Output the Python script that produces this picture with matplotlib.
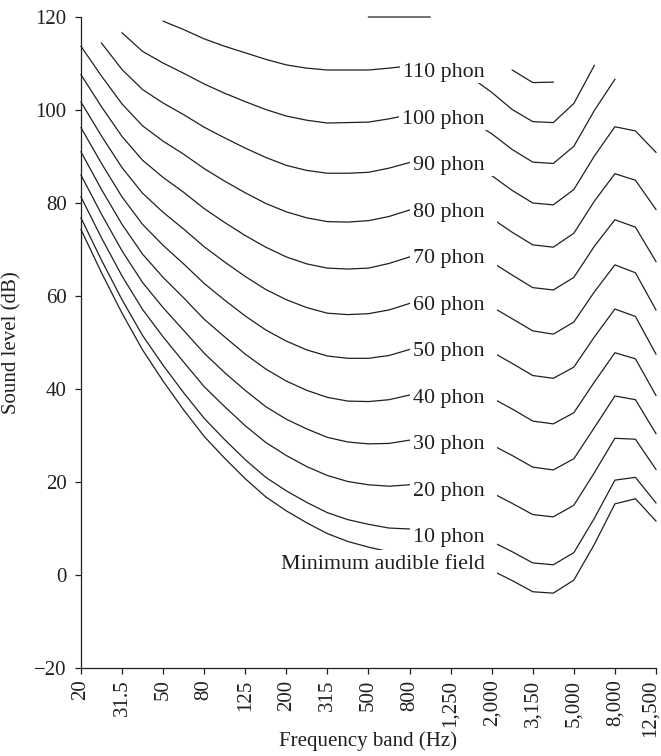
import numpy as np
import matplotlib.pyplot as plt
import matplotlib.transforms as mtransforms
from matplotlib.path import Path

plt.rcParams['font.family'] = ['Liberation Serif', 'DejaVu Serif']
plt.rcParams['font.size'] = 15

nan = np.nan
INK = '#231f20'

# one-third octave bands, 20 Hz ... 12.5 kHz
bands = ['20', '25', '31.5', '40', '50', '63', '80', '100', '125', '160',
         '200', '250', '315', '400', '500', '630', '800', '1,000', '1,250',
         '1,600', '2,000', '2,500', '3,150', '4,000', '5,000', '6,300',
         '8,000', '10,000', '12,500']

# sound level (dB) of each contour at every band
maf = [74.3, 65.0, 56.3, 48.4, 41.7, 35.5, 29.8, 25.1, 20.7, 16.8, 13.8,
       11.2, 8.9, 7.2, 6.0, 5.0, 4.4, 4.2, 3.7, 2.6, 1.0, -1.2, -3.6, -3.9,
       -1.1, 6.6, 15.3, 16.4, 11.6]
phon_10 = [76.8, 67.7, 59.2, 51.5, 45.1, 39.2, 33.7, 29.1, 24.8, 21.0, 18.1,
           15.6, 13.4, 11.9, 10.9, 10.1, 9.9, 10.0, 9.7, 8.7, 7.2, 5.0, 2.6,
           2.2, 4.8, 12.2, 20.4, 21.0, 15.5]
phon_20 = [81.3, 72.5, 64.3, 57.1, 51.2, 45.8, 40.5, 36.2, 32.1, 28.5, 25.7,
           23.3, 21.4, 20.1, 19.4, 19.1, 19.4, 20.0, 19.9, 19.2, 17.7, 15.4,
           13.0, 12.5, 15.0, 22.0, 29.4, 29.2, 22.7]
phon_30 = [86.0, 77.6, 69.7, 62.9, 57.5, 52.6, 47.7, 43.5, 39.7, 36.2, 33.5,
           31.4, 29.6, 28.6, 28.2, 28.3, 29.0, 30.0, 30.1, 29.5, 28.0, 25.7,
           23.2, 22.6, 25.0, 31.7, 38.5, 37.7, 30.4]
phon_40 = [91.0, 82.9, 75.4, 69.0, 64.0, 59.6, 55.0, 51.2, 47.5, 44.3, 41.7,
           39.7, 38.2, 37.4, 37.3, 37.7, 38.7, 40.0, 40.2, 39.6, 38.1, 35.7,
           33.1, 32.5, 34.9, 41.5, 47.8, 46.5, 38.6]
phon_50 = [96.2, 88.5, 81.3, 75.4, 70.9, 66.9, 62.7, 59.1, 55.7, 52.7, 50.3,
           48.4, 47.1, 46.6, 46.6, 47.2, 48.5, 50.0, 50.2, 49.6, 48.0, 45.5,
           42.9, 42.3, 44.7, 51.2, 57.2, 55.6, 47.5]
phon_60 = [101.7, 94.4, 87.6, 82.1, 78.0, 74.4, 70.6, 67.3, 64.2, 61.4, 59.2,
           57.5, 56.3, 56.0, 56.2, 57.0, 58.4, 60.0, 60.1, 59.5, 57.7, 55.1,
           52.5, 51.8, 54.4, 60.9, 66.7, 65.0, 57.0]
phon_70 = [107.6, 100.7, 94.3, 89.2, 85.5, 82.3, 78.8, 75.8, 73.0, 70.5,
           68.4, 66.9, 66.0, 65.8, 66.0, 67.0, 68.4, 70.0, 70.0, 69.3, 67.3,
           64.5, 61.8, 61.3, 64.0, 70.7, 76.4, 74.8, 67.4]
phon_80 = [113.7, 107.3, 101.3, 96.6, 93.3, 90.5, 87.4, 84.7, 82.2, 79.9,
           78.1, 76.8, 76.0, 75.9, 76.2, 77.1, 78.5, 80.0, 79.8, 78.9, 76.7,
           73.7, 71.0, 70.5, 73.5, 80.4, 86.3, 84.9, 78.6]
phon_90 = [nan, 114.4, 108.7, 104.4, 101.5, 99.0, 96.3, 94.0, 91.8, 89.8,
           88.1, 87.0, 86.4, 86.4, 86.6, 87.5, 88.7, 90.0, 89.5, 88.4, 85.9,
           82.7, 80.0, 79.6, 82.9, 90.1, 96.4, 95.5, 90.9]
phon_100 = [nan, nan, 116.6, 112.6, 110.1, 107.9, 105.6, 103.6, 101.8, 100.1,
            98.7, 97.8, 97.2, 97.3, 97.4, 98.1, 99.0, 100.0, 99.1, 97.7, 94.9,
            91.5, 88.8, 88.5, 92.2, 99.9, 106.6, nan, nan]
phon_110 = [nan, nan, nan, nan, 119.1, 117.3, 115.3, 113.7, 112.3, 110.9,
            109.7, 109.0, 108.6, 108.6, 108.6, 109.0, 109.5, 110.0, 108.6,
            107.0, 103.8, 100.1, 97.5, 97.3, 101.4, 109.6, nan, nan, nan]
phon_120 = [nan, nan, nan, nan, nan, nan, nan, nan, nan, nan, nan, nan, nan,
            nan, 120.0, 120.0, 120.0, 120.0, nan, nan, nan, 108.6, 105.9,
            106.0, nan, nan, nan, nan, nan]

labelled = [
    ('110 phon', phon_110),
    ('100 phon', phon_100),
    ('90 phon', phon_90),
    ('80 phon', phon_80),
    ('70 phon', phon_70),
    ('60 phon', phon_60),
    ('50 phon', phon_50),
    ('40 phon', phon_40),
    ('30 phon', phon_30),
    ('20 phon', phon_20),
    ('10 phon', phon_10),
    ('Minimum audible field', maf),
]


def label_box(x0, y0, width, height, mutation_size, *args):
    # white mask behind a label, tight on the left, wider on the right
    left = 0.14 * mutation_size
    right = 0.56 * mutation_size
    top = 0.25 * mutation_size
    bottom = 0.04 * mutation_size
    x1 = x0 + width + right
    y1 = y0 + height + top
    x0 = x0 - left
    y0 = y0 - bottom
    return Path([(x0, y0), (x1, y0), (x1, y1), (x0, y1), (x0, y0)],
                [Path.MOVETO, Path.LINETO, Path.LINETO, Path.LINETO,
                 Path.CLOSEPOLY])


fig = plt.figure(figsize=(6.61, 7.56), dpi=100)
ax = fig.add_axes([0.1225, 0.1164, 0.8699, 0.8611])

x = np.arange(len(bands))
ref = bands.index('1,000')

ax.plot(x, phon_120, color=INK, lw=0.9, clip_on=False)
for name, vals in labelled:
    ax.plot(x, vals, color=INK, lw=0.9, clip_on=False)

for name, vals in labelled:
    ax.text(19.67, vals[ref] - 3, name, ha='right', va='baseline',
            color=INK, zorder=5, fontsize=15.8,
            bbox=dict(boxstyle=label_box, fc='white', ec='none'))

ax.set_xlim(0, len(bands) - 1)
ax.set_ylim(-20, 120)
ax.set_xticks(x[::2])
ax.set_xticklabels(bands[::2], rotation=90)
ax.set_yticks(range(-20, 121, 20))

for side in ['top', 'right']:
    ax.spines[side].set_visible(False)
for side in ['left', 'bottom']:
    ax.spines[side].set_color(INK)
    ax.spines[side].set_linewidth(0.9)
ax.tick_params(direction='out', length=4.3, width=0.9, colors=INK)
ax.tick_params(axis='y', pad=6)
ax.tick_params(axis='x', pad=4)

# keep the last band label inside the figure edge
last = ax.get_xticklabels()[-1]
last.set_transform(last.get_transform() +
                   mtransforms.ScaledTranslation(-0.06, 0, fig.dpi_scale_trans))

ax.set_xlabel('Frequency band (Hz)', color=INK)
ax.set_ylabel('Sound level (dB)', color=INK)
ax.xaxis.set_label_coords(0.5, -0.097)
ax.yaxis.set_label_coords(-0.104, 0.5)

fig.savefig('out.png', dpi=100)
